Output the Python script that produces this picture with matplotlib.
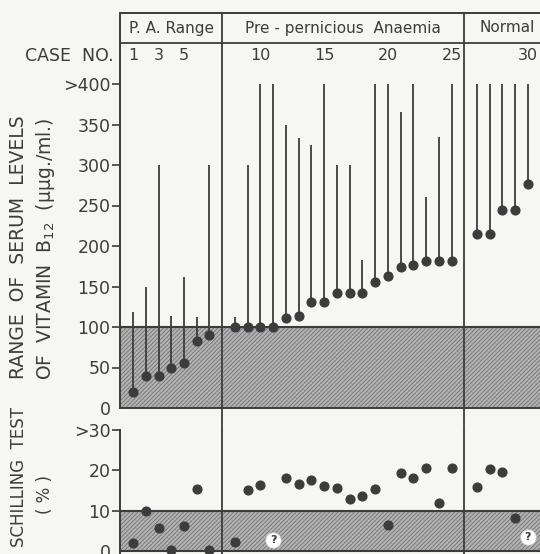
import numpy as np
import matplotlib
matplotlib.use('Agg')
import matplotlib.pyplot as plt

# case groups: (label, first case, last case)
group_names = ["P. A. Range", "Pre - pernicious  Anaemia", "Normal"]
group_first = [1, 8, 26]
group_last = [7, 25, 30]

cases = np.arange(1, 31)
case_ticks = [1, 3, 5, 10, 15, 20, 25, 30]

# serum B12 range (uug/ml), lowest and highest, >400 shown as 400
serum_low = [20, 40, 40, 50, 56, 83, 90, 100, 100, 100, 100, 111, 114, 131, 131,
             142, 142, 142, 155, 163, 174, 176, 181, 181, 181, 215, 215, 244, 244, 276]
serum_high = [118, 150, 300, 113, 162, 112, 300, 112, 300, 400, 400, 350, 333, 325, 400,
              300, 300, 183, 400, 400, 365, 400, 260, 335, 400, 400, 400, 400, 400, 400]

# Schilling test (%), None where a query mark is shown instead
schilling = [2, 10, 5.7, 0.3, 6.2, 15.4, 0.3, 2.3, 15.2, 16.3, None, 18, 16.7, 17.5, 16,
             15.5, 13, 13.75, 15.25, 6.5, 19.4, 18, 20.6, 12, 20.6, 15.8, 20.4, 19.6, 8.2, None]
query_cases = [11, 30]
query_level = [2.8, 3.5]

serum_ticks = [0, 50, 100, 150, 200, 250, 300, 350, 400]
serum_labels = ["0", "50", "100", "150", "200", "250", "300", "350", ">400"]
schill_ticks = [0, 10, 20, 30]
schill_labels = ["0", "10", "20", ">30"]


def case_pos(c):
    # one empty slot between groups
    off = 0
    for i, f in enumerate(group_first):
        if c >= f:
            off = i
    return c + off


pos = np.array([case_pos(c) for c in cases])
dividers = [group_last[0] + 1, case_pos(group_last[1]) + 1]

ink = '#3c3c3c'
bg = '#f6f6f3'
shade = '#b2b2b2'
plt.rcParams['font.family'] = ['DejaVu Sans']
plt.rcParams['mathtext.default'] = 'regular'
plt.rcParams['hatch.color'] = '#6e6e6e'
plt.rcParams['hatch.linewidth'] = 0.55

W, H = 540, 554
fig = plt.figure(figsize=(W / 100, H / 100), dpi=100, facecolor=bg)

def frac(x0, y0, x1, y1):
    return [x0 / W, 1 - y1 / H, (x1 - x0) / W, (y1 - y0) / H]

xmax = (540 - 120.3) / 12.74
# upper panel: 0 at y=408px, 0.81 px per unit
ax1 = fig.add_axes(frac(120.3, 13, 540, 408))
ax1.set_facecolor('none')
ax1.set_xlim(0, xmax)
ax1.set_ylim(0, (408 - 13) / 0.81)

ax1.axhspan(0, 100, facecolor=shade, hatch='////////', edgecolor='#6e6e6e', lw=0)
ax1.axhline(100, color=ink, lw=1.5)
ax1.vlines(pos, serum_low, serum_high, color=ink, lw=1.3)
ax1.plot(pos, serum_low, 'o', color=ink, ms=6.3, mec=ink)

for d in dividers:
    ax1.axvline(d, ymin=-22 / 395, ymax=1, color=ink, lw=1.3, clip_on=False)

head_line = (408 - 43) / 0.81
ax1.axhline(head_line, color=ink, lw=1.3)
for name, f, l in zip(group_names, group_first, group_last):
    a = case_pos(f) - 1
    b = case_pos(l) + 1
    if b > xmax:
        b = xmax + 0.8
    ax1.text((a + b) / 2, (408 - 28) / 0.81, name, ha='center', va='center',
             fontsize=11, color=ink)

case_y = (408 - 56) / 0.81
for c in case_ticks:
    ax1.text(case_pos(c), case_y, str(c), ha='center', va='center', fontsize=11.5, color=ink)
ax1.text(-0.55, case_y, "CASE  NO.", ha='right', va='center', fontsize=12.5, color=ink)

ax1.set_yticks(serum_ticks)
ax1.set_yticklabels(serum_labels, fontsize=12.5, color=ink)
ax1.set_xticks([])
ax1.tick_params(axis='y', direction='out', length=5.5, width=1.2, color=ink, pad=1.5)
ax1.yaxis.get_major_ticks()[0].tick1line.set_visible(False)
ax1.spines['right'].set_visible(False)
for s in ['left', 'top', 'bottom']:
    ax1.spines[s].set_color(ink)
    ax1.spines[s].set_linewidth(1.4)

# lower panel: 0 at y=551px, 4.03 px per unit
ax2 = fig.add_axes(frac(120.3, 430, 540, 554))
ax2.set_facecolor('none')
ax2.set_xlim(0, xmax)
ax2.set_ylim(-(554 - 551) / 4.03, 30)
ax2.axhspan(0, 10, facecolor=shade, hatch='////////', edgecolor='#6e6e6e', lw=0)
ax2.axhline(10, color=ink, lw=1.5)
ax2.axhline(0, color=ink, lw=1.5)
for d in dividers:
    ax2.axvline(d, color=ink, lw=1.3)
sx = [p for p, v in zip(pos, schilling) if v is not None]
sy = [v for v in schilling if v is not None]
ax2.plot(sx, sy, 'o', color=ink, ms=6.3)
qx = [case_pos(c) for c in query_cases]
ax2.plot(qx, query_level, 'o', ms=11, mfc='white', mec='#dddddd', mew=0.5)
for x, y in zip(qx, query_level):
    ax2.text(x, y, "?", ha='center', va='center', fontsize=8, fontweight='bold', color=ink)

ax2.set_yticks(schill_ticks)
ax2.set_yticklabels(schill_labels, fontsize=12.5, color=ink)
ax2.set_xticks([])
ax2.tick_params(axis='y', direction='out', length=5.5, width=1.2, color=ink, pad=1.5)
ax2.yaxis.get_major_ticks()[0].tick1line.set_visible(False)
for s in ['right', 'top', 'bottom']:
    ax2.spines[s].set_visible(False)
ax2.spines['left'].set_color(ink)
ax2.spines['left'].set_linewidth(1.4)
ax2.spines['left'].set_bounds(-1, 30)

# axis titles
fig.text(19 / W, 1 - 247 / H, "RANGE  OF  SERUM  LEVELS", rotation=90, ha='center', va='center',
         fontsize=13.5, color=ink)
fig.text(46 / W, 1 - 249 / H, "OF  VITAMIN  B$_{12}$  (\u03bc\u03bcg./ml.)", rotation=90,
         ha='center', va='center', fontsize=13.5, color=ink)
fig.text(19 / W, 1 - 477 / H, "SCHILLING  TEST", rotation=90, ha='center', va='center',
         fontsize=12, color=ink)
fig.text(45 / W, 1 - 494 / H, "( % )", rotation=90, ha='center', va='center',
         fontsize=12, color=ink)

fig.savefig('out.png', dpi=100, facecolor=bg)
